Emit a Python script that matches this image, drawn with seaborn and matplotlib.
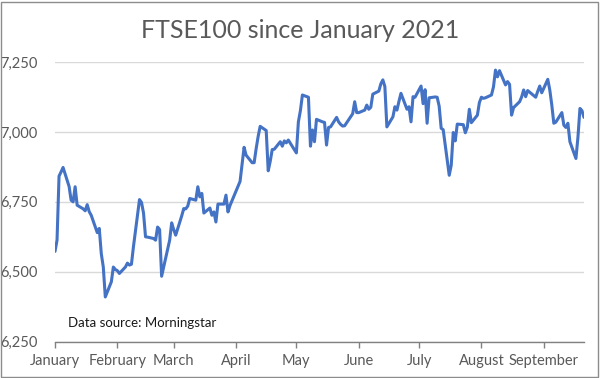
import pandas as pd
import matplotlib.pyplot as plt
import matplotlib.dates as mdates
from matplotlib.patches import Rectangle
import seaborn as sns

# FTSE100 closes, Jan - Sep 2021
jan = [("01-04", 6573), ("01-05", 6613), ("01-06", 6842), ("01-07", 6857), ("01-08", 6873),
       ("01-11", 6805), ("01-12", 6756), ("01-13", 6750), ("01-14", 6804), ("01-15", 6738),
       ("01-18", 6725), ("01-19", 6718), ("01-20", 6740), ("01-21", 6715), ("01-22", 6702),
       ("01-25", 6640), ("01-26", 6655), ("01-27", 6565), ("01-28", 6517), ("01-29", 6410)]
feb = [("02-01", 6464), ("02-02", 6517), ("02-03", 6508), ("02-04", 6504), ("02-05", 6494),
       ("02-08", 6517), ("02-09", 6531), ("02-10", 6524), ("02-11", 6527), ("02-12", 6590),
       ("02-15", 6758), ("02-16", 6748), ("02-17", 6710), ("02-18", 6625), ("02-19", 6624),
       ("02-22", 6619), ("02-23", 6613), ("02-24", 6660), ("02-25", 6651), ("02-26", 6484)]
mar = [("03-01", 6580), ("03-02", 6613), ("03-03", 6675), ("03-04", 6651), ("03-05", 6631),
       ("03-08", 6700), ("03-09", 6726), ("03-10", 6725), ("03-11", 6735), ("03-12", 6762),
       ("03-15", 6756), ("03-16", 6804), ("03-17", 6768), ("03-18", 6780), ("03-19", 6710),
       ("03-22", 6728), ("03-23", 6702), ("03-24", 6714), ("03-25", 6678), ("03-26", 6742),
       ("03-29", 6742), ("03-30", 6774), ("03-31", 6714)]
apr = [("04-01", 6737), ("04-06", 6823), ("04-07", 6885), ("04-08", 6945), ("04-09", 6917),
       ("04-12", 6890), ("04-13", 6890), ("04-14", 6940), ("04-15", 6984), ("04-16", 7020),
       ("04-19", 7005), ("04-20", 6861), ("04-21", 6895), ("04-22", 6937), ("04-23", 6938),
       ("04-26", 6965), ("04-27", 6949), ("04-28", 6968), ("04-29", 6961), ("04-30", 6971)]
may = [("05-04", 6925), ("05-05", 7036), ("05-06", 7076), ("05-07", 7132), ("05-10", 7124),
       ("05-11", 6949), ("05-12", 7007), ("05-13", 6965), ("05-14", 7045), ("05-17", 7036),
       ("05-18", 7034), ("05-19", 6953), ("05-20", 7016), ("05-21", 7018), ("05-24", 7052),
       ("05-25", 7036), ("05-26", 7027), ("05-27", 7021), ("05-28", 7022)]
jun = [("06-01", 7065), ("06-02", 7108), ("06-03", 7069), ("06-04", 7069), ("06-07", 7078),
       ("06-08", 7096), ("06-09", 7081), ("06-10", 7088), ("06-11", 7135), ("06-14", 7146),
       ("06-15", 7172), ("06-16", 7186), ("06-17", 7162), ("06-18", 7018), ("06-21", 7054),
       ("06-22", 7090), ("06-23", 7078), ("06-24", 7109), ("06-25", 7138), ("06-28", 7081),
       ("06-29", 7090), ("06-30", 7036)]
jul = [("07-01", 7126), ("07-02", 7124), ("07-05", 7164), ("07-06", 7101), ("07-07", 7151),
       ("07-08", 7031), ("07-09", 7122), ("07-12", 7125), ("07-13", 7124), ("07-14", 7092),
       ("07-15", 7013), ("07-16", 7008), ("07-19", 6845), ("07-20", 6881), ("07-21", 6998),
       ("07-22", 6968), ("07-23", 7028), ("07-26", 7026), ("07-27", 6997), ("07-28", 7017),
       ("07-29", 7081), ("07-30", 7033)]
aug = [("08-02", 7060), ("08-03", 7105), ("08-04", 7124), ("08-05", 7120), ("08-06", 7122),
       ("08-09", 7132), ("08-10", 7161), ("08-11", 7221), ("08-12", 7197), ("08-13", 7219),
       ("08-16", 7168), ("08-17", 7180), ("08-18", 7170), ("08-19", 7060), ("08-20", 7087),
       ("08-23", 7108), ("08-24", 7125), ("08-25", 7150), ("08-26", 7126), ("08-27", 7148),
       ("08-31", 7124)]
sep = [("09-01", 7145), ("09-02", 7164), ("09-03", 7140), ("09-06", 7188), ("09-07", 7150),
       ("09-08", 7096), ("09-09", 7031), ("09-10", 7035), ("09-13", 7069), ("09-14", 7024),
       ("09-15", 7016), ("09-16", 7031), ("09-17", 6965), ("09-20", 6905), ("09-21", 6981),
       ("09-22", 7084), ("09-23", 7076), ("09-24", 7052)]

months = ["January", "February", "March", "April", "May", "June", "July", "August", "September"]
yticks = [6250, 6500, 6750, 7000, 7250]

rows = jan + feb + mar + apr + may + jun + jul + aug + sep
df = pd.DataFrame(rows, columns=["day", "close"])
df["date"] = pd.to_datetime("2021-" + df["day"])

sns.set_style("white")
plt.rcParams["font.family"] = ["Lato", "DejaVu Sans"]
grey = "#595959"

fig = plt.figure(figsize=(6, 3.78), dpi=100)
ax = fig.add_axes([0.0917, 0.096, 0.8816, 0.74])

sns.lineplot(data=df, x="date", y="close", ax=ax, color="#4472C4", linewidth=2.2)

ax.set_ylim(6250, 7250)
ax.set_yticks(yticks)
ax.set_yticklabels([f"{v:,}" for v in yticks])
ax.set_xlim(pd.Timestamp("2021-01-04"), pd.Timestamp("2021-09-24"))
tick_dates = [pd.Timestamp(2021, m, 4) for m in range(1, 10)]
ax.set_xticks(tick_dates)
ax.set_xticklabels(months)

ax.grid(axis="y", color="#d9d9d9", linewidth=1)
ax.set_axisbelow(True)
for s in ["left", "right", "top"]:
    ax.spines[s].set_visible(False)
ax.spines["bottom"].set_color("#808080")
ax.spines["bottom"].set_linewidth(1)
ax.tick_params(axis="x", bottom=True, direction="out", length=4, width=1,
               color="#808080", labelsize=10.5, labelcolor=grey, pad=5)
ax.tick_params(axis="y", left=False, labelsize=10.5, labelcolor=grey, pad=9)
ax.set_xlabel("")
ax.set_ylabel("")

fig.text(0.5, 0.92, "FTSE100 since January 2021", ha="center", va="center",
         fontsize=18, color=grey)
fig.text(0.113, 0.146, "Data source: Morningstar", ha="left", va="center",
         fontsize=9.5, color="#1a1a1a")

fig.patches.append(Rectangle((0.002, 0.003), 0.995, 0.993, transform=fig.transFigure,
                             fill=False, edgecolor="#8c8c8c", linewidth=1))

fig.savefig("out.png", dpi=100)
